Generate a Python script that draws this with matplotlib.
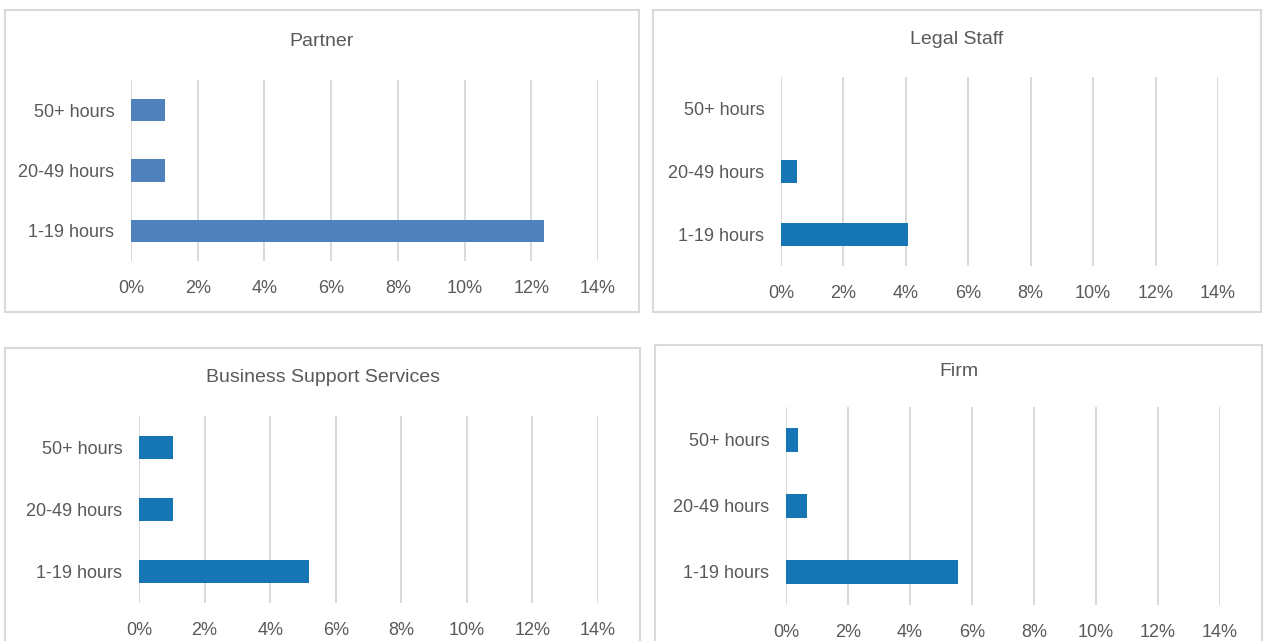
import matplotlib
matplotlib.use("Agg")
import matplotlib.pyplot as plt
from matplotlib.patches import Rectangle
from matplotlib.ticker import FuncFormatter

categories = ["1-19 hours", "20-49 hours", "50+ hours"]
partner = [12.38, 1.02, 1.02]
legal_staff = [4.07, 0.51, 0.0]
business_support = [5.18, 1.04, 1.04]
firm = [5.55, 0.68, 0.39]
x_ticks = [0, 2, 4, 6, 8, 10, 12, 14]

W, H = 1265, 641
TEXT = "#595959"
GRID = "#D9D9D9"

# (title, values, colour, axes box px [left, top, right, bottom], panel box px, title y px)
panels = [
    ("Partner", partner, "#4F81BD", (131, 80, 598, 261), (4.5, 10, 638.5, 312), 41),
    ("Legal Staff", legal_staff, "#1576B3", (781, 77, 1218, 266), (653, 10, 1261, 312), 40),
    ("Business Support Services", business_support, "#1576B3", (139, 416, 598, 603), (5, 348, 640, 660), 378),
    ("Firm", firm, "#1576B3", (786, 407, 1220, 605), (655, 345, 1262, 660), 372),
]

plt.rcParams["font.family"] = ["Liberation Sans", "DejaVu Sans"]
fig = plt.figure(figsize=(W / 100, H / 100), dpi=100)

for title, vals, color, ab, pb, ty in panels:
    fig.patches.append(Rectangle((pb[0] / W, 1 - pb[3] / H), (pb[2] - pb[0]) / W,
                                 (pb[3] - pb[1]) / H, transform=fig.transFigure,
                                 fill=False, edgecolor=GRID, linewidth=1.5, zorder=0))
    fig.text((pb[0] + pb[2]) / 2 / W, 1 - ty / H, title, ha="center", va="center",
             fontsize=14, color=TEXT)

    ax = fig.add_axes([ab[0] / W, 1 - ab[3] / H, (ab[2] - ab[0]) / W, (ab[3] - ab[1]) / H])
    ax.barh(range(len(categories)), vals, height=0.37, color=color, zorder=3)
    ax.set_ylim(-0.5, len(categories) - 0.5)
    ax.set_xlim(0, 14)
    ax.set_yticks(range(len(categories)))
    ax.set_yticklabels(categories)
    ax.set_xticks(x_ticks)
    ax.xaxis.set_major_formatter(FuncFormatter(lambda v, p: f"{v:.0f}%"))
    ax.grid(axis="x", color=GRID, linewidth=1.4, zorder=0)
    ax.tick_params(axis="both", length=0, labelsize=13, labelcolor=TEXT)
    ax.tick_params(axis="y", pad=12)
    ax.tick_params(axis="x", pad=14)
    for s in ax.spines.values():
        s.set_visible(False)
    ax.set_facecolor("none")

fig.savefig("out.png", dpi=100, facecolor="white")
